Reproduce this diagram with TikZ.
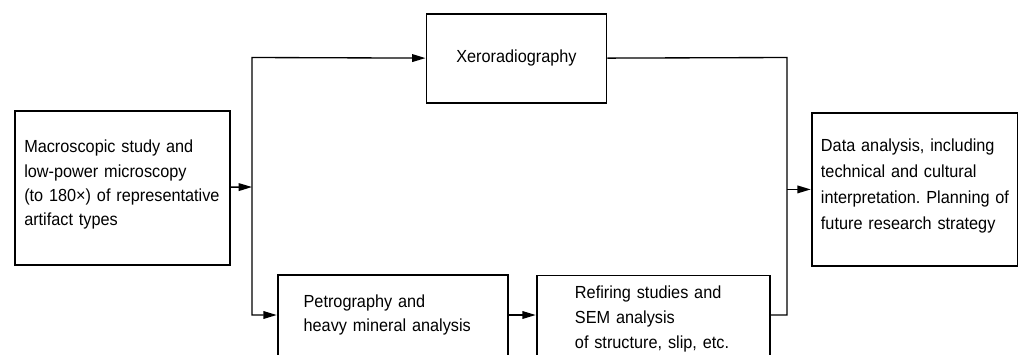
\documentclass[tikz,border=0pt]{standalone}
\usepackage{fontspec}
\setmainfont{Liberation Sans}[FakeStretch=0.93]
\usetikzlibrary{arrows.meta}
\begin{document}
\begin{tikzpicture}[x=0.6pt,y=-0.6pt,
  box/.style={draw,line width=1.1pt,anchor=north west,align=left,inner ysep=0pt,font=\fontsize{10.5}{14.6}\selectfont\frenchspacing},
  link/.style={line width=0.8pt},
  >={Triangle[length=8pt,width=4.6pt]}]
\useasboundingbox (0,0) rectangle (1018,354);
\clip (0,0) rectangle (1018,354);
% stages
\node [box,text width=117.8pt,inner xsep=5.6pt,text height=25.2pt,text depth=67.2pt] (macro) at (14,110) {Macroscopic study and\\low-power microscopy\\\mbox{(to 180×) of representative}\\artifact types};
\node [box,align=center,text width=108pt,inner xsep=0pt,text height=29.4pt,text depth=24pt] (xero) at (425.5,13) {Xeroradiography};
\node [box,text width=106.8pt,inner xsep=15.6pt,text height=19.6pt,text depth=60pt] (petro) at (276.7,274) {Petrography and\\heavy mineral analysis};
\node [box,font=\fontsize{10.5}{15.2}\selectfont\frenchspacing,text width=94pt,inner xsep=23pt,text height=13.6pt,text depth=60pt] (refire) at (535.7,274.5) {Refiring studies and\\SEM analysis\\\mbox{of structure, slip, etc.}};
\node [box,font=\fontsize{10.5}{15.6}\selectfont\frenchspacing,text width=112.6pt,inner xsep=5.6pt,text height=23.4pt,text depth=68.4pt] (data) at (810.7,112) {Data analysis, including\\technical and cultural\\\mbox{interpretation. Planning of}\\future research strategy};
% split and join lines
\coordinate (fork) at (252,187);
\coordinate (forktop) at (252,57.5);
\coordinate (forkbot) at (252,315);
\coordinate (jointop) at (787,57.5);
\coordinate (joinbot) at (787,315);
\draw [link,->] (macro) -- (fork);
\draw [link,<->] (xero) -- (forktop) -- (forkbot) -- (forkbot -| petro.west);
\draw [link,->] (petro.east |- forkbot) -- (refire.west |- forkbot);
\draw [link] (xero) -- (jointop) -- (joinbot) -- (refire.east |- joinbot);
\draw [link,->] (data.west -| jointop) -- (data.west);
\end{tikzpicture}
\end{document}
